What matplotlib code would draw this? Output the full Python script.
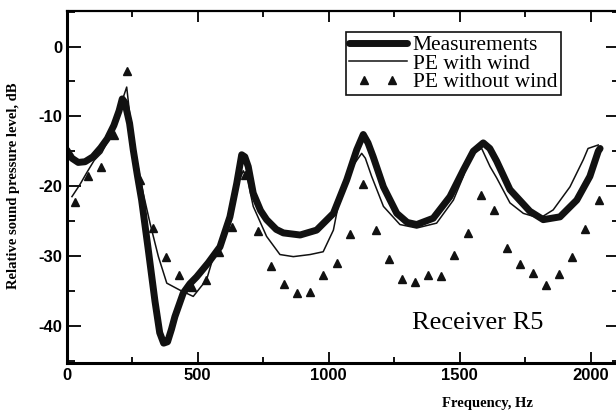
import numpy as np
import matplotlib
matplotlib.use("Agg")
import matplotlib.pyplot as plt
from matplotlib.legend_handler import HandlerLine2D
from matplotlib.ticker import MultipleLocator

plt.rcParams["axes.unicode_minus"] = False

# measured curve (thick line)
meas_f = [0, 20, 44, 70, 100, 130, 155, 180, 200, 212, 222, 240, 254, 270, 286, 311, 337, 355,
          370, 385, 400, 413, 445, 470, 496, 540, 585, 623, 649, 668, 680, 693, 712, 740, 763,
          800, 827, 891, 954, 1018, 1069, 1107, 1132, 1150, 1170, 1209, 1260, 1300, 1336, 1399,
          1463, 1514, 1552, 1590, 1615, 1641, 1692, 1768, 1819, 1883, 1947, 1997, 2029, 2036]
meas_db = [-14.8, -16.0, -16.6, -16.5, -15.8, -14.5, -13.2, -11.3, -9.2, -7.5, -8.0, -11.0, -14.8,
           -18.5, -22.0, -29.0, -36.5, -41.0, -42.5, -42.3, -40.5, -38.7, -35.3, -34.0, -33.0,
           -31.0, -28.7, -24.4, -19.6, -15.5, -15.8, -17.2, -21.0, -23.5, -24.8, -26.2, -26.7,
           -27.0, -26.3, -23.9, -19.1, -14.8, -12.6, -13.8, -15.8, -20.1, -23.9, -25.2, -25.5,
           -24.6, -21.5, -17.7, -15.0, -13.8, -14.6, -16.4, -20.5, -23.6, -24.8, -24.4, -22.0,
           -18.6, -15.0, -14.6]

# PE with wind (thin line)
wind_f = [20, 50, 76, 105, 134, 160, 185, 205, 229, 240, 267, 292, 318, 350, 382, 432, 483, 534,
          560, 585, 623, 650, 674, 690, 712, 763, 814, 865, 929, 979, 1018, 1043, 1081, 1126,
          1140, 1164, 1209, 1272, 1336, 1412, 1476, 1514, 1539, 1565, 1584, 1616, 1641, 1692,
          1743, 1806, 1857, 1921, 1972, 1990, 2029]
wind_db = [-21.5, -19.8, -18.1, -16.3, -15.2, -13.3, -11.0, -8.5, -5.8, -9.5, -16.2, -21.0, -25.3,
           -30.1, -33.9, -34.9, -35.8, -33.4, -30.1, -28.3, -24.2, -20.0, -17.8, -19.0, -22.9,
           -27.2, -29.8, -30.1, -29.8, -29.4, -26.3, -21.5, -17.7, -15.3, -16.0, -18.6, -22.9,
           -25.5, -26.0, -25.3, -22.0, -18.6, -15.3, -15.0, -14.6, -17.2, -18.8, -22.4, -23.9,
           -24.6, -23.4, -20.1, -16.2, -14.6, -14.1]

# PE without wind (triangles)
nowind_f = [30, 80, 130, 180, 230, 280, 330, 380, 430, 480, 530, 580, 630, 680, 730, 780, 830,
            880, 930, 980, 1030, 1080, 1130, 1180, 1230, 1280, 1330, 1380, 1430, 1480, 1530,
            1580, 1630, 1680, 1730, 1780, 1830, 1880, 1930, 1980, 2030]
nowind_db = [-22.2, -18.5, -17.2, -12.6, -3.5, -19.1, -26.0, -30.2, -32.7, -34.4, -33.4, -29.4,
             -25.8, -18.4, -26.4, -31.5, -34.0, -35.3, -35.1, -32.7, -31.0, -26.9, -19.7, -26.3,
             -30.5, -33.3, -33.8, -32.8, -32.9, -29.9, -26.7, -21.2, -23.4, -28.8, -31.1, -32.5,
             -34.2, -32.6, -30.2, -26.2, -22.0]

serif = ["Liberation Serif", "DejaVu Serif"]

fig = plt.figure(figsize=(6.16, 4.12), dpi=100)
ax = fig.add_axes([66.7 / 616, 1 - 362.7 / 412, (620 - 66.7) / 616, (362.7 - 11) / 412])

ax.plot(meas_f, meas_db, color="#111111", lw=5, solid_capstyle="round",
        solid_joinstyle="round", label="Measurements")
ax.plot(wind_f, wind_db, color="#111111", lw=1.1, label="PE with wind")
tri, = ax.plot(nowind_f, nowind_db, ls="none", marker="^", ms=5.5, color="#111111",
               label="PE without wind")

ax.set_xlim(0, 2112)
ax.set_ylim(-45.3, 5.1)
ax.xaxis.set_major_locator(MultipleLocator(500))
ax.xaxis.set_minor_locator(MultipleLocator(250))
ax.yaxis.set_major_locator(MultipleLocator(10))
ax.yaxis.set_minor_locator(MultipleLocator(5))
ax.tick_params(axis="x", which="both", direction="in", top=True, width=1.3, pad=4)
ax.tick_params(axis="x", which="major", length=8)
ax.tick_params(axis="x", which="minor", length=4)
ax.tick_params(axis="y", which="both", direction="in", right=True, width=1.3, pad=3)
ax.tick_params(axis="y", which="major", length=10)
ax.tick_params(axis="y", which="minor", length=6)
for lab in ax.get_xticklabels() + ax.get_yticklabels():
    lab.set_fontfamily("Liberation Sans")
    lab.set_fontweight("bold")
    lab.set_fontsize(12)
for s in ["left", "bottom"]:
    ax.spines[s].set_linewidth(2.2)
ax.spines["top"].set_linewidth(1.6)

leg = ax.legend(loc="upper left", bbox_to_anchor=(0.505, 0.941), borderaxespad=0,
                prop={"family": serif, "size": 15.5}, frameon=True, fancybox=False,
                edgecolor="#111111", framealpha=1, handlelength=2.7, handletextpad=0.25,
                labelspacing=-0.07, borderpad=0.15,
                handler_map={tri: HandlerLine2D(numpoints=2, marker_pad=0.7)})
leg.get_frame().set_linewidth(1.2)

ax.text(0.742, 0.113, "Receiver R5", transform=ax.transAxes, ha="center", va="center",
        family=serif, fontsize=19)

fig.text(13.5 / 616, 1 - 186 / 412, "Relative sound pressure level, dB", rotation=90,
         ha="center", va="center", family=serif, fontweight="bold", fontsize=10.5)
fig.text(488 / 616, 1 - 403.5 / 412, "Frequency, Hz", ha="center", va="center",
         family=serif, fontweight="bold", fontsize=10.5)

fig.savefig("out.png", dpi=100)
